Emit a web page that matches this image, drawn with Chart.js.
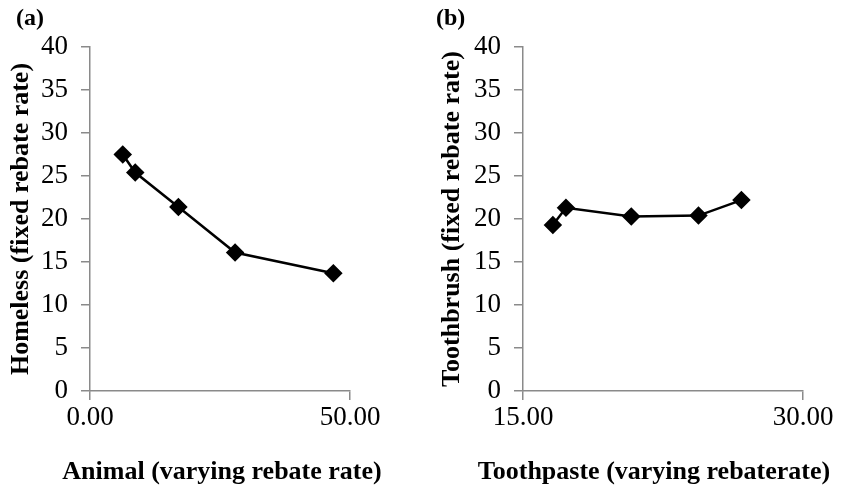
<!DOCTYPE html>
<html>
<head>
<meta charset="utf-8">
<script src="https://cdn.jsdelivr.net/npm/chart.js@4"></script>
<style>
  body{margin:0;background:#fff;width:846px;height:485px;position:relative;overflow:hidden;font-family:"Liberation Serif",serif;}
  .panel{position:absolute;top:0;height:485px;}
  .tag{position:absolute;top:4px;font:bold 24px "Liberation Serif",serif;color:#000;}
  .xtitle{position:absolute;top:456px;height:28px;line-height:28px;text-align:center;white-space:nowrap;font:bold 26px "Liberation Serif",serif;color:#000;}
</style>
</head>
<body>
<div class="panel" style="left:0;width:420px;"><canvas id="chartA" width="420" height="485"></canvas></div>
<div class="panel" style="left:420px;width:426px;"><canvas id="chartB" width="426" height="485"></canvas></div>
<div class="tag" style="left:16px;">(a)</div>
<div class="tag" style="left:436px;">(b)</div>
<div class="xtitle" style="left:22px;width:400px;">Animal (varying rebate rate)</div>
<div class="xtitle" style="left:454px;width:400px;">Toothpaste (varying rebaterate)</div>
<script>
// panel (a)
const animalX=[6.3,8.7,17.0,27.9,46.8];
const homelessY=[27.5,25.4,21.4,16.1,13.7];
const xTicksA=[0,50];
// panel (b)
const toothpasteX=[16.6,17.3,20.8,24.4,26.7];
const toothbrushY=[19.3,21.3,20.3,20.4,22.2];
const xTicksB=[15,30];
const yTicks=[0,5,10,15,20,25,30,35,40];

const axisGray='#8a8a8a';
const tickFont={family:'"Liberation Serif", serif',size:27};
const titleFont={family:'"Liberation Serif", serif',size:26,weight:'bold'};

function makeChart(id,xs,ys,xTicks,yTitle,yWidth,padRight,yTitlePad){
    const pts=xs.map((x,i)=>({x:x,y:ys[i]}));
    return new Chart(document.getElementById(id),{
        type:'scatter',
        data:{datasets:[{
            data:pts,
            showLine:true,
            borderColor:'#000',
            backgroundColor:'#000',
            borderWidth:2.5,
            pointStyle:'rectRot',
            pointRadius:7.5,
            pointHoverRadius:7.5
        }]},
        options:{
            responsive:false,
            animation:false,
            layout:{padding:{top:47,right:padRight,left:0,bottom:0}},
            plugins:{legend:{display:false},tooltip:{enabled:false}},
            scales:{
                x:{
                    type:'linear',
                    min:xTicks[0],max:xTicks[1],
                    afterBuildTicks:s=>{s.ticks=xTicks.map(v=>({value:v}));},
                    afterFit:s=>{s.height=94;},
                    border:{color:axisGray,width:1.5},
                    grid:{drawOnChartArea:false,color:axisGray,tickLength:9,lineWidth:1.5},
                    ticks:{color:'#000',font:tickFont,padding:2,maxRotation:0,callback:v=>v.toFixed(2)}
                },
                y:{
                    min:0,max:40,
                    afterBuildTicks:s=>{s.ticks=yTicks.map(v=>({value:v}));},
                    afterFit:s=>{s.width=yWidth;},
                    border:{color:axisGray,width:1.5},
                    grid:{drawOnChartArea:false,color:axisGray,tickLength:9,lineWidth:1.5},
                    ticks:{color:'#000',font:tickFont,padding:13},
                    title:{display:true,text:yTitle,color:'#000',font:titleFont,padding:{top:yTitlePad,bottom:0}}
                }
            }
        }
    });
}

makeChart('chartA',animalX,homelessY,xTicksA,'Homeless (fixed rebate rate)',90,70,6);
makeChart('chartB',toothpasteX,toothbrushY,xTicksB,'Toothbrush (fixed rebate rate)',103,43,17);
</script>
</body>
</html>
